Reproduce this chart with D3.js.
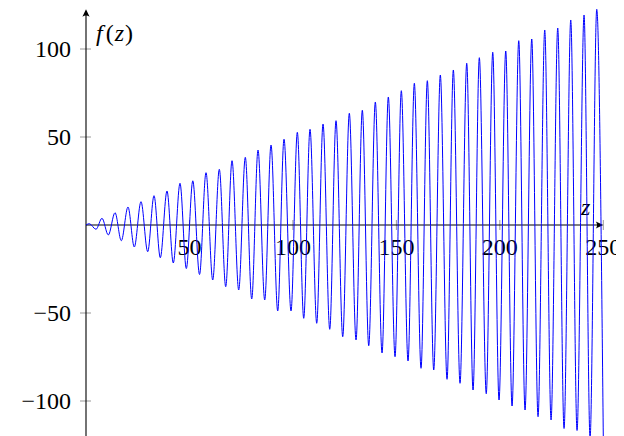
<!DOCTYPE html>
<html>
<head>
<meta charset="utf-8">
<script src="https://cdn.jsdelivr.net/npm/d3@7/dist/d3.min.js"></script>
</head>
<body>
<svg id="chart" width="624" height="436"></svg>
<script>
// Turning points of f(z): alternating maxima and minima, from z = 0 to z = 250
const zValues = [0,
  1.59, 4.83, 7.73, 10.78, 14.02, 17.06, 20.30, 23.34, 26.58, 29.82,
  32.87, 35.91, 39.15, 42.19, 45.43, 48.48, 51.62, 54.86, 58.00, 61.24,
  64.43, 67.52, 70.57, 73.80, 76.99, 80.09, 83.13, 86.37, 89.42, 92.65,
  95.70, 99.08, 102.13, 105.22, 108.26, 111.50, 114.55, 117.79, 120.83, 124.07,
  127.26, 130.50, 133.54, 136.64, 139.83, 143.07, 146.11, 149.35, 152.39, 155.63,
  158.68, 161.91, 164.96, 168.05, 171.24, 174.48, 177.53, 180.76, 184.00, 187.05,
  190.09, 193.43, 196.57, 199.61, 202.85, 205.90, 209.14, 212.18, 215.42, 218.46,
  221.70, 224.75, 227.98, 231.03, 234.27, 237.31, 240.70, 243.60, 246.83, 250];
const fValues = [0,
  0.74, -2.44, 3.81, -5.68, 6.99, -8.92, 10.23, -12.50, 13.24, -15.17,
  16.65, -18.58, 19.32, -21.59, 23.69, -24.72, 25.11, -28.13, 29.72, -31.25,
  31.65, -35.06, 36.53, -36.93, 38.47, -42.05, 42.61, -42.61, 45.45, -48.86,
  48.75, -48.86, 52.67, -53.01, 54.38, -55.85, 57.39, -59.26, 59.26, -63.47,
  63.47, -65.34, 65.17, -68.58, 69.89, -72.73, 72.73, -74.83, 76.31, -77.27,
  80.51, -81.42, 81.99, -82.39, 85.23, -87.67, 88.07, -89.94, 91.88, -93.75,
  95.06, -95.85, 98.13, -99.43, 98.86, -102.84, 104.72, -105.11, 105.68, -108.92,
  110.80, -110.80, 111.93, -115.63, 116.48, -116.76, 119.32, -121.00, 122.56, -121.00];

const xTicks = [50, 100, 150, 200, 250];
const yTicks = [-100, -50, 50, 100];
const xLabel = "z";

const FONT = '"Liberation Serif"';
const data = zValues.map((z, i) => ({ z, f: fValues[i] }));
const fmt = d3.format("d");

// the svg sits inside the default 8px body margin; shift the drawing back to page coordinates
const svg = d3.select("#chart").append("g").attr("transform", "translate(-8,-8)");
const x = d3.scaleLinear().domain([0, 250]).range([86, 603.3]);
const y = d3.scaleLinear().domain([-120, 120]).range([436.2, 13.8]);
const yTop = d3.max(fValues);
const x0 = x(0), y0 = y(0);

// y ticks and labels
svg.selectAll("line.ytick").data(yTicks).join("line")
  .attr("class", "ytick")
  .attr("x1", x0 - 6).attr("x2", x0 + 5)
  .attr("y1", d => y(d)).attr("y2", d => y(d))
  .attr("stroke", "#999").attr("stroke-width", 1);
svg.selectAll("text.ylabel").data(yTicks).join("text")
  .attr("class", "ylabel")
  .attr("x", x0 - 15).attr("y", d => y(d)).attr("dy", "0.32em")
  .attr("text-anchor", "end")
  .style("font-family", FONT).style("font-size", "24px")
  .text(d => fmt(d));

// x ticks and labels
svg.selectAll("line.xtick").data(xTicks).join("line")
  .attr("class", "xtick")
  .attr("x1", d => x(d)).attr("x2", d => x(d))
  .attr("y1", y0 - 5).attr("y2", y0 + 5)
  .attr("stroke", "#999").attr("stroke-width", 1);
svg.selectAll("text.xlabel").data(xTicks).join("text")
  .attr("class", "xlabel")
  .attr("x", d => x(d)).attr("y", y0 + 13).attr("dy", "0.71em")
  .attr("text-anchor", "middle")
  .style("font-family", FONT).style("font-size", "24px")
  .text(d => fmt(d));

// axis lines with arrow heads
svg.append("line")
  .attr("x1", x0).attr("x2", x(250) - 2)
  .attr("y1", y0).attr("y2", y0)
  .attr("stroke", "#000").attr("stroke-width", 1.1);
svg.append("line")
  .attr("x1", x0).attr("x2", x0)
  .attr("y1", 444).attr("y2", y(yTop) + 2)
  .attr("stroke", "#000").attr("stroke-width", 1.1);

const tx = x(250), ty = y0;
svg.append("path")
  .attr("d", `M${tx},${ty} L${tx - 7.5},${ty - 3.6} Q${tx - 5},${ty} ${tx - 7.5},${ty + 3.6} Z`)
  .attr("fill", "#000");
const ax = x0, ay = y(yTop);
svg.append("path")
  .attr("d", `M${ax},${ay} L${ax - 3.6},${ay + 7.5} Q${ax},${ay + 5} ${ax + 3.6},${ay + 7.5} Z`)
  .attr("fill", "#000");

// axis names
svg.append("text")
  .attr("x", 581).attr("y", 215)
  .style("font-family", FONT).style("font-size", "24px").style("font-style", "italic")
  .text(xLabel);

const fl = svg.append("text")
  .attr("x", 96).attr("y", 41)
  .style("font-family", FONT).style("font-size", "24px");
fl.append("tspan").style("font-style", "italic").text("f");
fl.append("tspan").attr("dx", 3).text("(");
fl.append("tspan").attr("dx", 1).style("font-style", "italic").text("z");
fl.append("tspan").attr("dx", 1).text(")");

// the curve
const line = d3.line()
  .x(d => x(d.z))
  .y(d => y(d.f))
  .curve(d3.curveMonotoneX);

svg.append("path")
  .datum(data)
  .attr("d", line)
  .attr("fill", "none")
  .attr("stroke", "#0000ff")
  .attr("stroke-width", 1);
</script>
</body>
</html>
